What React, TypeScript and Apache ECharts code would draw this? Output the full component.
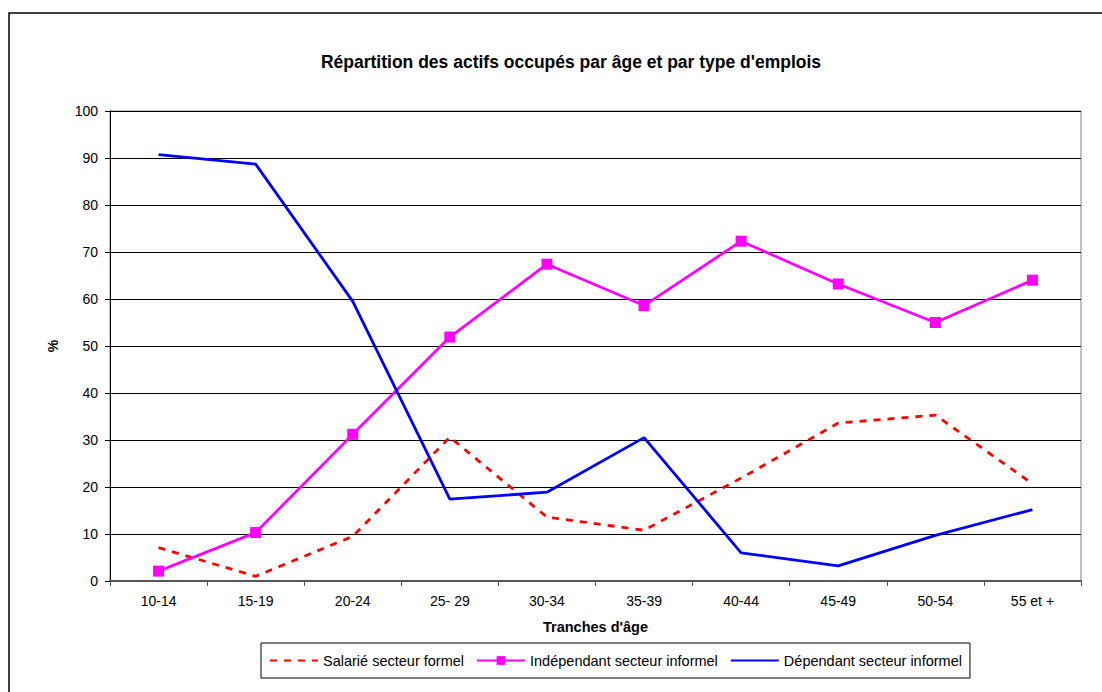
import React, { useEffect, useRef } from "react";
import * as echarts from "echarts";

const categories = ["10-14", "15-19", "20-24", "25- 29", "30-34", "35-39", "40-44", "45-49", "50-54", "55 et +"];
const salarieFormel = [7.1, 1.0, 9.5, 30.6, 13.6, 10.8, 21.9, 33.6, 35.3, 20.7];
const independantInformel = [2.1, 10.3, 31.2, 51.9, 67.4, 58.6, 72.3, 63.2, 55.0, 64.0];
const dependantInformel = [90.7, 88.7, 59.5, 17.4, 18.9, 30.5, 6.0, 3.2, 9.7, 15.2];
const seriesNames = ["Salarié secteur formel", "Indépendant secteur informel", "Dépendant secteur informel"];

const FONT = "'Liberation Sans', Arial, sans-serif";

export default function App() {
  const ref = useRef<HTMLDivElement>(null);
  useEffect(() => {
    if (!ref.current) return;
    const chart = echarts.init(ref.current, undefined, { renderer: "svg" });
    chart.setOption({
      animation: false,
      backgroundColor: "#ffffff",
      textStyle: { fontFamily: FONT, color: "#000" },
      title: {
        text: "Répartition des actifs occupés par âge et par type d'emplois",
        left: 566,
        top: 48,
        textAlign: "center",
        textStyle: { fontFamily: FONT, fontSize: 17.5, fontWeight: "bold", color: "#000" },
      },
      graphic: [
        {
          type: "rect",
          shape: { x: 9, y: 13, width: 1300, height: 900 },
          style: { fill: "none", stroke: "#000", lineWidth: 1.5 },
          silent: true,
        },
      ],
      legend: {
        left: 261,
        top: 643,
        width: 711,
        height: 36,
        padding: [10, 8, 10, 8],
        borderColor: "#000",
        borderWidth: 1,
        itemWidth: 48,
        itemHeight: 11,
        itemGap: 12,
        textStyle: { fontFamily: FONT, fontSize: 14.5, color: "#000" },
        data: [
          { name: seriesNames[0], itemStyle: { opacity: 0 } },
          { name: seriesNames[1] },
          { name: seriesNames[2], itemStyle: { opacity: 0 } },
        ],
      },
      grid: {
        left: 110,
        right: 21,
        top: 111,
        bottom: 111,
        show: true,
        borderColor: "#808080",
        borderWidth: 1,
        containLabel: false,
      },
      xAxis: {
        type: "category",
        data: categories,
        boundaryGap: true,
        name: "Tranches d'âge",
        nameLocation: "middle",
        nameGap: 38,
        nameTextStyle: { fontFamily: FONT, fontSize: 14.5, fontWeight: "bold", color: "#000" },
        axisLine: { lineStyle: { color: "#555", width: 2 } },
        axisTick: { show: true, alignWithLabel: false, length: 5, lineStyle: { color: "#555" } },
        axisLabel: { fontFamily: FONT, fontSize: 14, color: "#000", margin: 13, interval: 0 },
        splitLine: { show: false },
      },
      yAxis: {
        type: "value",
        min: 0,
        max: 100,
        interval: 10,
        name: "%",
        nameLocation: "middle",
        nameGap: 50,
        nameRotate: 90,
        nameTextStyle: { fontFamily: FONT, fontSize: 14, fontWeight: "bold", color: "#000" },
        axisLine: { show: true, lineStyle: { color: "#000", width: 1 } },
        axisTick: { show: true, length: 5, lineStyle: { color: "#000" } },
        axisLabel: { fontFamily: FONT, fontSize: 14, color: "#000", margin: 12 },
        splitLine: { show: true, lineStyle: { color: "#000", width: 1 } },
      },
      series: [
        {
          name: seriesNames[0],
          type: "line",
          data: salarieFormel,
          symbol: "none",
          lineStyle: { color: "#ff0000", width: 2.8, type: [7, 7] },
          itemStyle: { color: "#ff0000" },
          z: 3,
        },
        {
          name: seriesNames[1],
          type: "line",
          data: independantInformel,
          symbol: "rect",
          symbolSize: 11,
          lineStyle: { color: "#ff00ff", width: 2.8 },
          itemStyle: { color: "#ff00ff" },
          z: 4,
        },
        {
          name: seriesNames[2],
          type: "line",
          data: dependantInformel,
          symbol: "none",
          lineStyle: { color: "#0000ff", width: 2.8 },
          itemStyle: { color: "#0000ff" },
          z: 5,
        },
      ],
    });
    return () => chart.dispose();
  }, []);
  return (
    <div
      ref={ref}
      style={{ position: "fixed", left: 0, top: 0, width: 1102, height: 692, background: "#fff" }}
    />
  );
}
